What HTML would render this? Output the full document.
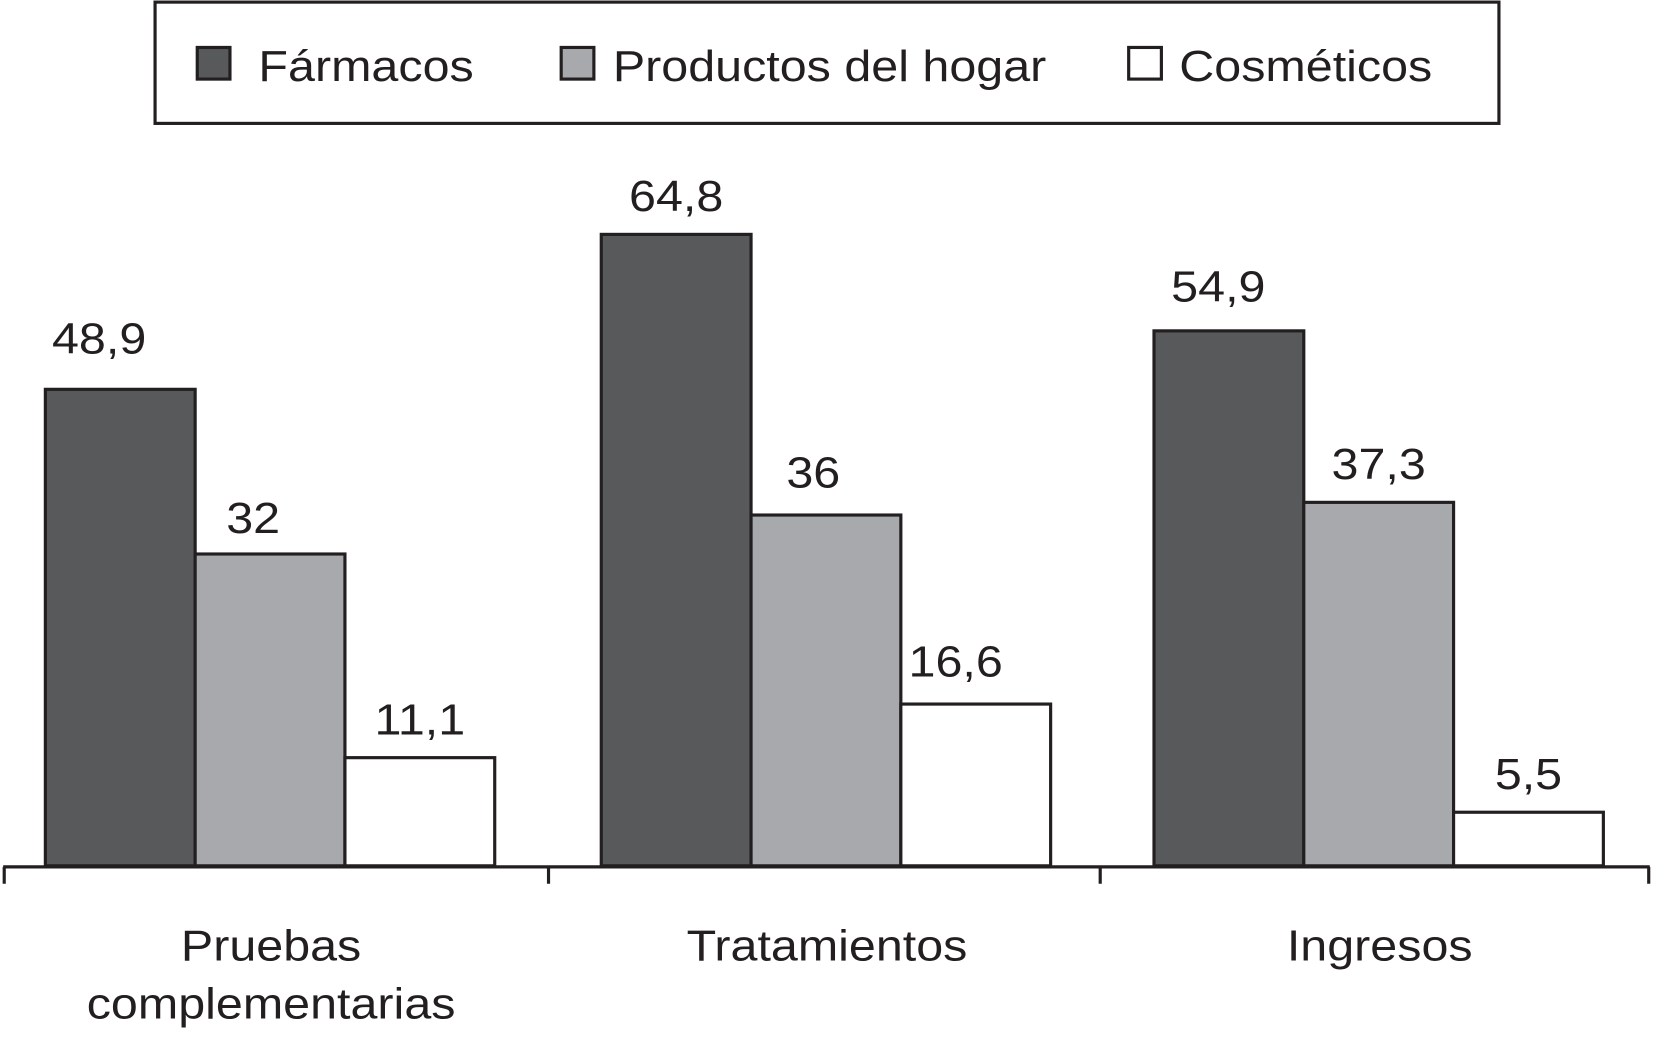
<!DOCTYPE html>
<html><head><meta charset="utf-8"><style>html,body{margin:0;padding:0;background:#fff}svg{display:block}text{font-family:"Liberation Sans",sans-serif;fill:#231f20}</style></head>
<body>
<svg id="chart" width="1654" height="1043" viewBox="0 0 1568 989" preserveAspectRatio="none" xmlns="http://www.w3.org/2000/svg">
<g>
<rect x="147" y="2" width="1274" height="115" fill="#fff" stroke="#231f20" stroke-width="3"/>
<rect x="187" y="45" width="31" height="30" fill="#58595b" stroke="#231f20" stroke-width="3"/>
<text x="245" y="77" font-size="41">Fármacos</text>
<rect x="532" y="45" width="31" height="30" fill="#a7a9ac" stroke="#231f20" stroke-width="3"/>
<text x="581" y="77" font-size="41">Productos del hogar</text>
<rect x="1070" y="45" width="31" height="30" fill="#fff" stroke="#231f20" stroke-width="3"/>
<text x="1118" y="77" font-size="41">Cosméticos</text>
</g>
<g id="bars"></g>
<g id="axis"></g>
</svg>
<script>
const categories = ["Pruebas|complementarias", "Tratamientos", "Ingresos"];
const farmacos = [48.9, 64.8, 54.9];
const productos = [32, 36, 37.3];
const cosmeticos = [11.1, 16.6, 5.5];
const valueLabels = [["48,9","64,8","54,9"],["32","36","37,3"],["11,1","16,6","5,5"]];

const NS = "http://www.w3.org/2000/svg";
const baseY = 821, pxPerUnit = 9.24;
const groupStart = [43, 570, 1094], barW = 142;
const labelDx = [[-20,0,-10],[-16,-12,0],[0,-19,0]];
const labelDy = [[-12,0,-6],[2,-4,0],[0,-4,0]];
const y = v => baseY - v * pxPerUnit;
const series = [farmacos, productos, cosmeticos];
const fills = ["#58595b", "#a7a9ac", "#ffffff"];
const sNames = ["farmacos", "productos", "cosmeticos"];
const bars = document.getElementById("bars");
series.forEach((vals, s) => {
  vals.forEach((v, i) => {
    const x = groupStart[i] + s * barW;
    const r = document.createElementNS(NS, "rect");
    r.setAttribute("x", x); r.setAttribute("y", y(v));
    r.setAttribute("width", barW); r.setAttribute("height", baseY - y(v));
    r.setAttribute("fill", fills[s]); r.setAttribute("stroke", "#231f20"); r.setAttribute("stroke-width", "3");
    
    
    bars.appendChild(r);
    const t = document.createElementNS(NS, "text");
    t.setAttribute("x", x + barW / 2 + labelDx[s][i]); t.setAttribute("y", y(v) - 22 + labelDy[s][i]);
    t.setAttribute("text-anchor", "middle"); t.setAttribute("font-size", "41");
    t.textContent = valueLabels[s][i];
    
    
    bars.appendChild(t);
  });
});
const axis = document.getElementById("axis");
const line = document.createElementNS(NS, "line");
line.setAttribute("x1", 3); line.setAttribute("x2", 1564); line.setAttribute("y1", 822); line.setAttribute("y2", 822);
line.setAttribute("stroke", "#231f20"); line.setAttribute("stroke-width", "3");


axis.appendChild(line);
[4, 520, 1043, 1563].forEach((tx, k) => {
  const l = document.createElementNS(NS, "line");
  l.setAttribute("x1", tx); l.setAttribute("x2", tx); l.setAttribute("y1", 822); l.setAttribute("y2", 838);
  l.setAttribute("stroke", "#231f20"); l.setAttribute("stroke-width", "3");
  
  
  axis.appendChild(l);
});
categories.forEach((c, i) => {
  const cx = groupStart[i] + barW * 1.5 + 1;
  c.split("|").forEach((ln, j) => {
    const t = document.createElementNS(NS, "text");
    t.setAttribute("x", cx); t.setAttribute("y", 911 + j * 55);
    t.setAttribute("text-anchor", "middle"); t.setAttribute("font-size", "41");
    t.textContent = ln;
    
    
    axis.appendChild(t);
  });
});
document.querySelectorAll("#chart text").forEach(t => {
  const w = t.getComputedTextLength();
  t.setAttribute("textLength", (w * 1.12).toFixed(1));
  t.setAttribute("lengthAdjust", "spacingAndGlyphs");
});
</script>
</body></html>
